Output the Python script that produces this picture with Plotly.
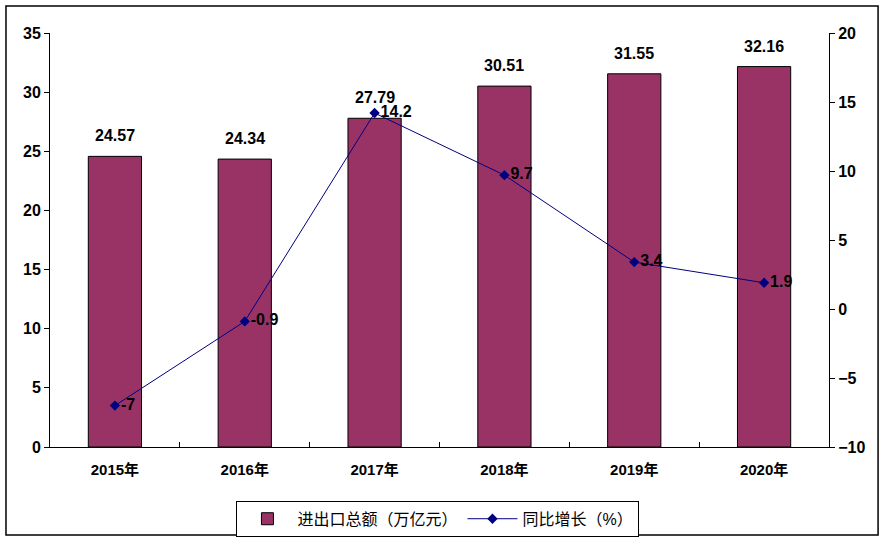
import plotly.graph_objects as go

# data
years = ["2015年", "2016年", "2017年", "2018年", "2019年", "2020年"]
trade_total = [24.57, 24.34, 27.79, 30.51, 31.55, 32.16]   # 进出口总额（万亿元）
yoy_growth = [-7, -0.9, 14.2, 9.7, 3.4, 1.9]                # 同比增长（%）

font_main = "Liberation Sans, Arial, Noto Sans CJK SC"
label_font = dict(size=16, color="black", family=font_main, weight="bold")

fig = go.Figure()

fig.add_trace(go.Bar(
    x=years,
    y=trade_total,
    name="进出口总额（万亿元）",
    marker=dict(color="#993366", line=dict(color="black", width=1)),
    width=0.41,
))

fig.add_trace(go.Scatter(
    x=years,
    y=yoy_growth,
    name="同比增长（%）",
    yaxis="y2",
    mode="lines+markers+text",
    line=dict(color="#000080", width=1),
    marker=dict(symbol="diamond", size=8, color="#000080"),
    text=[f"{v:g}" for v in yoy_growth],
    textposition="middle right",
    textfont=label_font,
    cliponaxis=False,
))

# value labels above the bars
for yr, v in zip(years, trade_total):
    fig.add_annotation(
        x=yr, y=v, yref="y", text=f"{v:.2f}",
        showarrow=False, yanchor="bottom", yshift=10,
        font=label_font,
    )

fig.update_layout(
    width=885,
    height=548,
    margin=dict(l=50, r=56, t=33, b=101, autoexpand=False),
    plot_bgcolor="white",
    paper_bgcolor="white",
    font=dict(family=font_main, size=15, color="black"),
    showlegend=True,
    legend=dict(
        orientation="h",
        x=0.498, xanchor="center",
        y=-0.13, yanchor="top",
        bordercolor="black", borderwidth=1,
        font=dict(size=16, family=font_main),
        itemwidth=50,
    ),
    xaxis=dict(
        automargin=False,
        showline=True, linecolor="black", linewidth=1,
        ticks="inside", tickson="boundaries", ticklen=5, tickcolor="black",
        tickfont=dict(size=15, weight="bold"),
        ticklabelstandoff=9,
        showgrid=False,
    ),
    yaxis=dict(
        automargin=False,
        range=[0, 35], dtick=5,
        showline=True, linecolor="black", linewidth=1,
        ticks="outside", ticklen=5, tickcolor="black",
        tickfont=dict(size=16, weight="bold"),
        showgrid=False, zeroline=False,
    ),
    yaxis2=dict(
        automargin=False,
        range=[-10, 20], dtick=5,
        overlaying="y", side="right",
        showline=True, linecolor="black", linewidth=1,
        ticks="outside", ticklen=5, tickcolor="black",
        tickfont=dict(size=16, weight="bold"),
        showgrid=False, zeroline=False,
    ),
)

# outer chart frame
fig.add_shape(
    type="rect", xref="paper", yref="paper",
    x0=-0.0565, x1=1.063, y0=-0.2126, y1=1.065,
    line=dict(color="black", width=1.5),
    fillcolor="rgba(0,0,0,0)",
)

# drop the browser's default page margin so the chart sits at the top-left corner
fig.write_html(
    "out.html",
    config={"displayModeBar": False},
    post_script="document.body.style.margin='0';",
)
